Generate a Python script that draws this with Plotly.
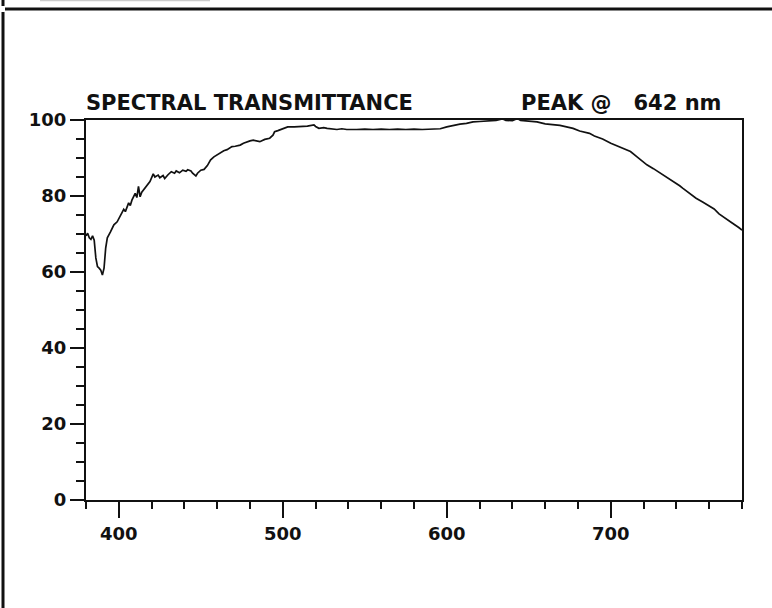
import plotly.graph_objects as go

# ---- data ----
wavelength_nm = [
    380, 381, 382, 383, 384, 385, 386, 387, 388, 389, 390, 391, 392, 393, 395, 397, 399,
    400, 401, 403, 404, 406, 407, 408, 410, 411, 412, 413, 414, 416, 418, 419, 421, 422,
    424, 425, 427, 428, 430, 432, 434, 435, 437, 439, 441, 442, 444, 445, 447, 448, 450,
    452, 454, 456, 458, 461, 464, 466, 469, 471, 474, 476, 478, 480, 482, 484, 486, 489,
    492, 494, 495, 497, 499, 501, 503, 507, 511, 515, 519, 520, 522, 525, 527, 530, 533,
    536, 539, 545, 550, 555, 560, 565, 570, 575, 580, 585, 590, 596, 600, 604, 608, 612,
    616, 620, 626, 630, 634, 636, 640, 643, 645, 650, 655, 660, 665, 669, 673, 677, 681,
    685, 687, 690, 695, 700, 705, 710, 712, 716, 720, 722, 726, 730, 734, 738, 742, 744,
    748, 752, 756, 760, 763, 766, 770, 774, 778, 780,
]
transmittance_pct = [
    69.5, 70.2, 69.0, 68.6, 69.5, 68.4, 63.7, 61.4, 61.0, 60.5, 59.2, 61.0, 66.3, 69.0, 70.6, 72.4, 73.2,
    74.1, 74.6, 76.5, 75.9, 78.2, 77.5, 78.9, 80.7, 79.6, 82.5, 79.8, 81.0, 82.0, 83.2, 83.8, 85.8, 85.0,
    85.5, 84.8, 85.4, 84.6, 85.6, 86.4, 86.0, 86.6, 86.1, 86.8, 86.5, 86.9, 86.6, 86.0, 85.3, 86.0, 86.8,
    87.0, 88.0, 89.5, 90.3, 91.2, 91.9, 92.2, 93.0, 93.1, 93.4, 93.9, 94.3, 94.5, 94.7, 94.4, 94.3, 94.9,
    95.2, 96.0, 96.9, 97.2, 97.5, 97.8, 98.2, 98.2, 98.3, 98.4, 98.7, 98.3, 97.8, 98.0, 97.8, 97.7, 97.5,
    97.7, 97.5, 97.5, 97.6, 97.5, 97.6, 97.5, 97.6, 97.5, 97.6, 97.5, 97.6, 97.7, 98.2, 98.6, 98.9, 99.1,
    99.5, 99.6, 99.8, 99.9, 100.3, 99.9, 99.8, 100.4, 99.9, 99.7, 99.5, 99.0, 98.8, 98.6, 98.2, 97.8, 97.1,
    96.8, 96.5, 95.8, 95.0, 93.9, 93.0, 92.0, 91.7, 90.3, 88.8, 88.2, 87.2, 86.1, 85.1, 83.8, 82.7, 82.0,
    80.7, 79.4, 78.4, 77.4, 76.6, 75.3, 74.0, 72.9, 71.7, 71.0,
]
x_tick_vals = [400, 500, 600, 700]
y_tick_vals = [0, 20, 40, 60, 80, 100]
title_left = "SPECTRAL TRANSMITTANCE"
title_right = "PEAK @\u00a0\u00a0\u00a0642 nm"

# ---- layout geometry (pixels) ----
W, H = 772, 608
L, R, T, B = 86, 742, 120, 500
pw, ph = R - L, B - T


def px(x):
    return (x - L) / pw


def py(y):
    return (B - y) / ph


FONT = "DejaVu Sans"
INK = "#111111"

fig = go.Figure()
fig.add_trace(go.Scatter(
    x=wavelength_nm, y=transmittance_pct, mode="lines",
    line=dict(color=INK, width=1.7), showlegend=False, hoverinfo="x+y",
))

fig.update_layout(
    width=W, height=H,
    margin=dict(l=L, r=W - R, t=T, b=H - B, pad=0),
    paper_bgcolor="white", plot_bgcolor="white",
    font=dict(family=FONT, color=INK),
    xaxis=dict(
        range=[380, 780], tickvals=x_tick_vals, ticks="outside", ticklen=16, tickwidth=2,
        tickcolor=INK, showline=True, linecolor=INK, linewidth=2, mirror=True,
        showgrid=False, zeroline=False,
        tickfont=dict(family=FONT, size=18, weight="bold", color=INK),
        minor=dict(dtick=20, tick0=380, ticks="outside", ticklen=7, tickwidth=2, tickcolor=INK, showgrid=False),
    ),
    yaxis=dict(
        range=[0, 100], tickvals=y_tick_vals, ticks="outside", ticklen=14, tickwidth=2,
        tickcolor=INK, showline=True, linecolor=INK, linewidth=2, mirror=True,
        showgrid=False, zeroline=False,
        tickfont=dict(family=FONT, size=18, weight="bold", color=INK),
        minor=dict(dtick=5, tick0=0, ticks="outside", ticklen=8, tickwidth=2, tickcolor=INK, showgrid=False),
    ),
    annotations=[
        dict(text=title_left, xref="paper", yref="paper", x=px(L - 2), y=py(103.5),
             xanchor="left", yanchor="middle", showarrow=False,
             font=dict(family=FONT, size=21, weight="bold", color=INK)),
        dict(text=title_right, xref="paper", yref="paper", x=px(723), y=py(103.5),
             xanchor="right", yanchor="middle", showarrow=False,
             font=dict(family=FONT, size=21, weight="bold", color=INK)),
    ],
    shapes=[
        # outer frame pieces
        dict(type="line", xref="paper", yref="paper", x0=px(3), x1=px(3), y0=py(0), y1=py(6),
             line=dict(color=INK, width=3)),
        dict(type="line", xref="paper", yref="paper", x0=px(3), x1=px(3), y0=py(12), y1=py(608),
             line=dict(color=INK, width=3)),
        dict(type="line", xref="paper", yref="paper", x0=px(5), x1=px(772), y0=py(9), y1=py(9),
             line=dict(color=INK, width=3)),
        dict(type="line", xref="paper", yref="paper", x0=px(40), x1=px(210), y0=py(0.5), y1=py(0.5),
             line=dict(color="#cccccc", width=1.5)),
    ],
)

fig.write_html("out.html")
